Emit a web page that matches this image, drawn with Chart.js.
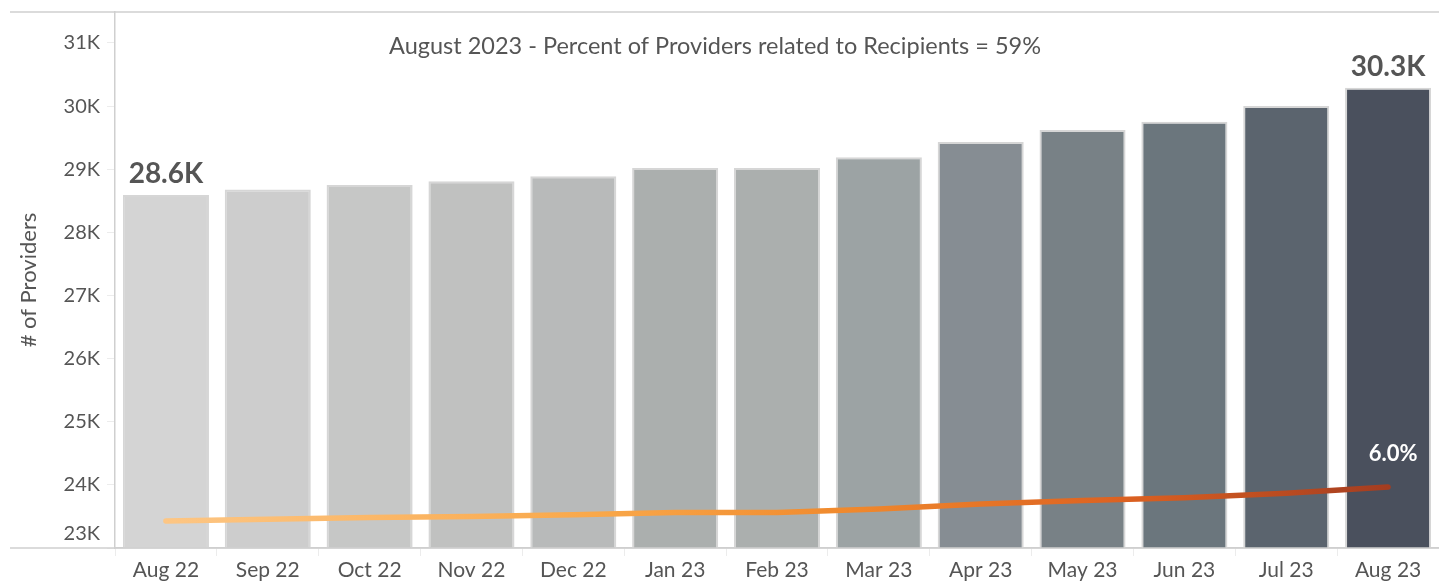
<!DOCTYPE html>
<html>
<head>
<meta charset="utf-8">
<script src="https://cdn.jsdelivr.net/npm/chart.js@4.4.1/dist/chart.umd.min.js"></script>
<style>
  html, body { margin: 0; padding: 0; background: #fff; }
  #wrap { width: 1439px; height: 585px; position: relative; }
</style>
</head>
<body>
<div id="wrap"><canvas id="providers"></canvas></div>
<script>
const months = ["Aug 22", "Sep 22", "Oct 22", "Nov 22", "Dec 22", "Jan 23", "Feb 23",
  "Mar 23", "Apr 23", "May 23", "Jun 23", "Jul 23", "Aug 23"];
const providers = [28590, 28680, 28750, 28810, 28890, 29020, 29020,
  29190, 29430, 29620, 29750, 30000, 30290];
const growthPct = [0, 0.3, 0.6, 0.8, 1.1, 1.5, 1.5, 2.1, 3.0, 3.6, 4.1, 4.9, 6.0];
const barColors = ["#d4d4d4", "#cdcdcd", "#c6c7c6", "#c0c1c0", "#b8baba", "#abafae",
  "#abafae", "#9ca3a4", "#868d93", "#788186", "#6b767d", "#5b646e", "#4a505d"];
const yTicks = [23000, 24000, 25000, 26000, 27000, 28000, 29000, 30000, 31000];
const title = "August 2023 - Percent of Providers related to Recipients = 59%";

const FONT = "Lato, 'Open Sans', sans-serif";
const TEXT = "#555555";

function kLabel(v) {
  return (v / 1000).toFixed(1) + "K";
}

// frame lines, y labels, title and the value callouts
const decorations = {
  id: "decorations",
  afterDraw(chart) {
    const ctx = chart.ctx;
    const area = chart.chartArea;
    const y = chart.scales.y;
    ctx.save();

    ctx.strokeStyle = "#cfcfcf";
    ctx.lineWidth = 1.5;
    ctx.beginPath();
    ctx.moveTo(10, area.top);
    ctx.lineTo(chart.width, area.top);
    ctx.moveTo(10, area.bottom);
    ctx.lineTo(chart.width, area.bottom);
    ctx.stroke();

    ctx.font = "20px " + FONT;
    ctx.fillStyle = TEXT;
    ctx.textAlign = "right";
    ctx.textBaseline = "middle";
    yTicks.forEach(function (t) {
      const py = Math.min(y.getPixelForValue(t), area.bottom - 14);
      ctx.fillText(t / 1000 + "K", area.left - 15, py);
    });

    ctx.textAlign = "center";
    ctx.font = "23.5px " + FONT;
    ctx.fillText(title, 715, y.getPixelForValue(31000) + 3);

    const bars = chart.getDatasetMeta(0).data;
    const last = providers.length - 1;
    ctx.font = "bold 28px " + FONT;
    ctx.textBaseline = "bottom";
    [0, last].forEach(function (i) {
      ctx.fillText(kLabel(providers[i]), bars[i].x, bars[i].y - 7);
    });

    const pts = chart.getDatasetMeta(1).data;
    ctx.font = "bold 22px " + FONT;
    ctx.fillStyle = "#ffffff";
    ctx.fillText(growthPct[last].toFixed(1) + "%", pts[last].x + 5, pts[last].y - 22);
    ctx.restore();
  }
};

function lineGradient(context) {
  const area = context.chart.chartArea;
  if (!area) return "#f08a2e";
  const g = context.chart.ctx.createLinearGradient(area.left + 50, 0, area.right - 45, 0);
  g.addColorStop(0, "#fdc684");
  g.addColorStop(0.35, "#f9a84a");
  g.addColorStop(0.55, "#f08a2e");
  g.addColorStop(0.78, "#dc6121");
  g.addColorStop(1, "#a33c20");
  return g;
}

new Chart(document.getElementById("providers"), {
  data: {
    labels: months,
    datasets: [
      {
        type: "bar",
        label: "# of Providers",
        data: providers,
        backgroundColor: barColors,
        borderColor: "#d6d6d6",
        borderWidth: 2,
        barPercentage: 0.845,
        categoryPercentage: 1,
        yAxisID: "y",
        order: 2,
      },
      {
        type: "line",
        label: "Growth",
        data: growthPct,
        borderColor: lineGradient,
        borderWidth: 5.5,
        borderCapStyle: "round",
        borderJoinStyle: "round",
        pointRadius: 0,
        tension: 0,
        yAxisID: "y1",
        order: 1,
      },
    ],
  },
  options: {
    responsive: true,
    maintainAspectRatio: false,
    animation: false,
    events: [],
    layout: { padding: { top: 12, right: 0, left: 0, bottom: 0 } },
    plugins: {
      legend: { display: false },
      tooltip: { enabled: false },
    },
    scales: {
      x: {
        offset: true,
        border: { color: "#cfcfcf", width: 1.5 },
        grid: {
          offset: true,
          drawOnChartArea: false,
          drawTicks: true,
          tickLength: 8,
          color: "#ececec",
        },
        ticks: {
          color: TEXT,
          font: { family: FONT, size: 21 },
          maxRotation: 0,
          autoSkip: false,
          padding: 2,
        },
        afterFit: function (s) { s.height = 37; },
      },
      y: {
        min: 23000,
        max: 31490,
        afterBuildTicks: function (s) {
          s.ticks = yTicks.map(function (v) { return { value: v }; });
        },
        border: { color: "#cfcfcf", width: 1.5 },
        grid: {
          drawOnChartArea: false,
          drawTicks: true,
          tickLength: 8,
          color: "#ececec",
        },
        ticks: { display: false },
        title: {
          display: true,
          text: "# of Providers",
          color: TEXT,
          font: { family: FONT, size: 22 },
          padding: { top: 16, bottom: 0 },
        },
        afterFit: function (s) { s.width = 115; },
      },
      y1: {
        display: false,
        min: -4.76,
        max: 89.8,
      },
    },
  },
  plugins: [decorations],
});
</script>
</body>
</html>
